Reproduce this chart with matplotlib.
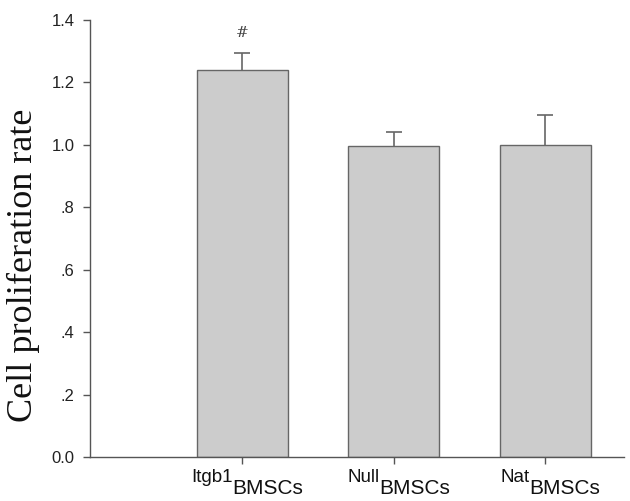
import matplotlib
matplotlib.use("Agg")
import matplotlib.pyplot as plt
import numpy as np

prefixes = ["Itgb1", "Null", "Nat"]
subscript = "BMSCs"
values = [1.24, 0.995, 1.001]
errors = [0.053, 0.045, 0.096]
yticks = [0.0, 0.2, 0.4, 0.6, 0.8, 1.0, 1.2, 1.4]
yticklabels = ["0.0", ".2", ".4", ".6", ".8", "1.0", "1.2", "1.4"]
ylabel = "Cell proliferation rate"
sig_marks = ["#", "", ""]

fig = plt.figure(figsize=(6.30, 5.01), dpi=100)
ax = fig.add_axes([90/630, 1-457/501, (624-90)/630, (457-20)/501])

x = np.arange(len(values))
axis_col = "#555555"
ax.bar(x, values, width=0.6, color="#cccccc", edgecolor="#666666", linewidth=1.0, zorder=2)
eb = ax.errorbar(x, values, yerr=[np.zeros(len(errors)), errors], fmt="none",
                 ecolor="#666666", elinewidth=1.2, capsize=5.5, capthick=1.2, zorder=1)
# hide the lower caps (only upper error shown)
eb[1][0].set_visible(False)

for xi, v, e, m in zip(x, values, errors, sig_marks):
    if m:
        ax.annotate(m, xy=(xi, v + e), xytext=(0, 10), textcoords="offset points",
                    ha="center", va="bottom", fontsize=11, color="#444444",
                    family="DejaVu Serif")

ax.set_xlim(-1.007, 2.52)
ax.set_ylim(0, 1.4)
ax.set_yticks(yticks)
ax.set_yticklabels(yticklabels, family="Liberation Sans", fontsize=12, color="#222222")
ax.set_xticks(x)
ax.set_xticklabels([])
for s in ["top", "right"]:
    ax.spines[s].set_visible(False)
for s in ["left", "bottom"]:
    ax.spines[s].set_color(axis_col)
    ax.spines[s].set_linewidth(1.0)
ax.tick_params(axis="both", direction="out", length=5, width=1.0, color=axis_col)
ax.tick_params(axis="y", pad=6)

fig.text(23/630, 1-265/501, ylabel, rotation=90, ha="center", va="center",
         family="Liberation Serif", fontsize=26, color="#111111")

# composite x tick labels
fig.canvas.draw()
r = fig.canvas.get_renderer()
y1, y2 = -18, -26.5
for xi, p in zip(x, prefixes):
    t1 = ax.annotate(p, xy=(xi, 0), xycoords=("data", "axes fraction"),
                     xytext=(0, y1), textcoords="offset points",
                     ha="right", va="baseline", fontsize=13.5,
                     family="Liberation Sans", color="#111111")
    t2 = ax.annotate(subscript, xy=(xi, 0), xycoords=("data", "axes fraction"),
                     xytext=(0, y2), textcoords="offset points",
                     ha="left", va="baseline", fontsize=15,
                     family="Liberation Sans", color="#111111")
    w1 = t1.get_window_extent(r).width * 72 / fig.dpi
    w2 = t2.get_window_extent(r).width * 72 / fig.dpi
    off = (w1 - w2) / 2 + 3.5
    t1.set_position((off, y1))
    t2.set_position((off, y2))

fig.savefig("out.png", dpi=100)
